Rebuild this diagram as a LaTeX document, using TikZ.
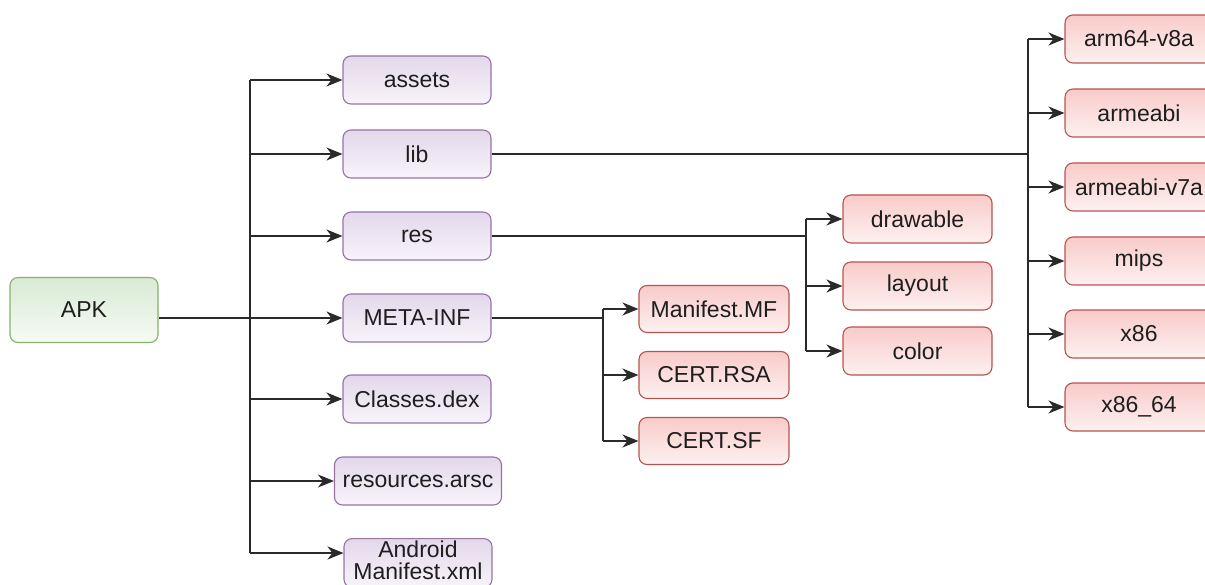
\documentclass[tikz,border=0pt]{standalone}
\usepackage{fontspec}
\setmainfont{Liberation Sans}
\usetikzlibrary{arrows.meta}
\definecolor{txt}{HTML}{1E1E1E}
\definecolor{ln}{HTML}{2A2A2A}
\definecolor{pstroke}{HTML}{9673A6}
\definecolor{ptop}{HTML}{E3D8EA}
\definecolor{pbot}{HTML}{F8F4FA}
\definecolor{rstroke}{HTML}{B85450}
\definecolor{rtop}{HTML}{F8CBC9}
\definecolor{rbot}{HTML}{FDF1F0}
\definecolor{gstroke}{HTML}{82B366}
\definecolor{gtop}{HTML}{D8EAD4}
\definecolor{gbot}{HTML}{F6FBF4}
\tikzset{
  box/.style={rectangle, rounded corners=8pt, line width=1.1pt, minimum height=48pt, minimum width=148pt, inner sep=2pt, text=txt, font=\fontsize{23}{19}\selectfont, align=center},
  pbox/.style={box, draw=pstroke, top color=ptop, bottom color=pbot},
  rbox/.style={box, draw=rstroke, top color=rtop, bottom color=rbot},
  gbox/.style={box, draw=gstroke, top color=gtop, bottom color=gbot},
  conn/.style={draw=ln, line width=1.7pt},
  arr/.style={conn, -{Stealth[length=16pt, width=13pt, inset=5pt]}},
}
\begin{document}
\begin{tikzpicture}[x=1pt, y=-1pt]
\useasboundingbox (0,0) rectangle (1205,585);
% root
\node[gbox, minimum height=65pt] (APK) at (84,310) {APK};
% first level
\node[pbox] (assets) at (417,80) {assets};
\node[pbox] (lib) at (417,154) {lib};
\node[pbox] (res) at (417,236) {res};
\node[pbox] (meta) at (417,318) {META-INF};
\node[pbox] (classes) at (417,399) {Classes.dex};
\node[pbox, minimum width=167pt] (arsc) at (418,481) {resources.arsc};
\node[pbox] (am) at (418,563) {\raisebox{8pt}{\begin{tabular}{@{}c@{}}Android\\Manifest.xml\end{tabular}}};
% META-INF children
\node[rbox, minimum width=150pt, minimum height=47pt] (mf) at (714,309) {Manifest.MF};
\node[rbox, minimum width=150pt, minimum height=47pt] (rsa) at (714,375) {CERT.RSA};
\node[rbox, minimum width=150pt, minimum height=47pt] (sf) at (714,441) {CERT.SF};
% res children
\node[rbox, minimum width=149pt] (draw) at (917.5,219) {drawable};
\node[rbox, minimum width=149pt] (layout) at (917.5,286) {layout};
\node[rbox, minimum width=149pt] (color) at (917.5,351) {color};
% lib children
\node[rbox] (a64) at (1139,39) {arm64-v8a};
\node[rbox] (aeabi) at (1139,113) {armeabi};
\node[rbox] (a7) at (1139,187) {armeabi-v7a};
\node[rbox] (mips) at (1139,261) {mips};
\node[rbox] (x86) at (1139,334) {x86};
\node[rbox] (x64) at (1139,407) {x86\_64};
% trunk coordinates
\coordinate (T) at (250,0);
\coordinate (L) at (1028,0);
\coordinate (R) at (806,0);
\coordinate (M) at (603,0);
\coordinate (amin) at ([yshift=10pt]am.west);
% main trunk
\draw[conn] (T |- assets.west) -- (T |- amin);
\foreach \n in {assets,lib,res,classes,arsc}{
  \draw[arr] (T |- \n.west) -- (\n.west);
}
\draw[arr] (T |- amin) -- (amin);
\draw[arr] (APK.east |- meta.west) -- (meta.west);
% lib branch
\draw[conn] (lib.east) -- (L |- lib.east);
\draw[conn] (L |- a64.west) -- (L |- x64.west);
\foreach \n in {a64,aeabi,a7,mips,x86,x64}{
  \draw[arr] (L |- \n.west) -- (\n.west);
}
% res branch
\draw[conn] (res.east) -- (R |- res.east);
\draw[conn] (R |- draw.west) -- (R |- color.west);
\foreach \n in {draw,layout,color}{
  \draw[arr] (R |- \n.west) -- (\n.west);
}
% META-INF branch
\draw[conn] (meta.east) -- (M |- meta.east);
\draw[conn] (M |- mf.west) -- (M |- sf.west);
\foreach \n in {mf,rsa,sf}{
  \draw[arr] (M |- \n.west) -- (\n.west);
}
\end{tikzpicture}
\end{document}
